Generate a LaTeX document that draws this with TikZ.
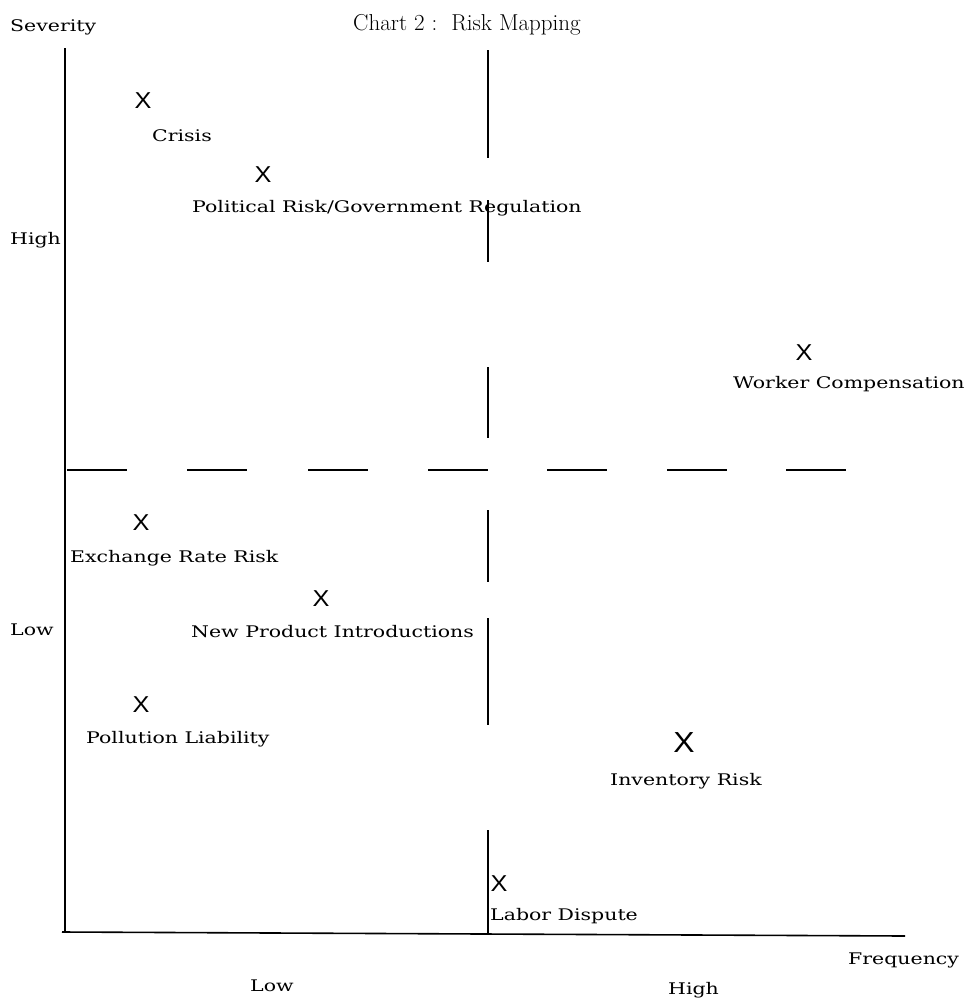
\documentclass[tikz,border=0pt]{standalone}
\usepackage{fontspec}
\newfontfamily\labfont[FakeStretch=1.28]{DejaVu Serif}
\newfontfamily\xfont[FakeStretch=1.1]{Liberation Sans}
\begin{document}
\begin{tikzpicture}[x=1pt,y=-1pt,
  lab/.style={font=\labfont\fontsize{16}{19}\selectfont, inner sep=0pt, anchor=mid west},
  xmk/.style={font=\xfont\fontsize{23}{23}\selectfont, inner sep=0pt},
  bigxmk/.style={font=\xfont\fontsize{29}{29}\selectfont, inner sep=0pt},
  axis/.style={line width=1.6pt},
  divider/.style={line width=1.5pt},
  thindiv/.style={line width=1.1pt}]
\useasboundingbox (0,0) rectangle (966,999);
% title and axis labels
\node[font=\fontsize{23}{26}\selectfont, inner sep=0pt, anchor=mid west] (title) at (353,28) {Chart 2 :\ \ Risk Mapping};
\node[lab] (sev) at (10,29) {Severity};
\node[lab] (yhigh) at (10,242) {High};
\node[lab] (ylow) at (10,633) {Low};
\node[lab] (freq) at (848,962) {Frequency};
\node[lab] (xlow) at (250,989) {Low};
\node[lab] (xhigh) at (668,992) {High};
% axes
\draw[axis] (65,48) -- (65,933);
\draw[axis] (62,932) -- (905,936);
% horizontal dashed divider
\foreach \a in {67,187,308,428,547,667,786}
  \draw[divider] (\a,470) -- ++(60,0);
% vertical broken divider
\foreach \a/\b in {50/158,200/262}
  \draw[thindiv] (488,\a) -- (488,\b);
\foreach \a/\b in {367/438,510/582,618/725,830/934}
  \draw[divider] (488,\a) -- (488,\b);
% risk items
\node[xmk] (xcrisis) at (143,101) {X};
\node[lab] (crisis) at (152,139) {Crisis};
\node[xmk] (xpol) at (263,175) {X};
\node[lab] (pol) at (192,210) {Political Risk/Government Regulation};
\node[xmk] (xwork) at (804,353) {X};
\node[lab] (work) at (733,386) {Worker Compensation};
\node[xmk] (xexch) at (141,523) {X};
\node[lab] (exch) at (70,560) {Exchange Rate Risk};
\node[xmk] (xnew) at (321,599) {X};
\node[lab] (new) at (191,635) {New Product Introductions};
\node[xmk] (xpoll) at (141,705) {X};
\node[lab] (poll) at (86,741) {Pollution Liability};
\node[bigxmk] (xinv) at (684,743) {X};
\node[lab] (inv) at (610,783) {Inventory Risk};
\node[xmk] (xlab) at (499,884) {X};
\node[lab] (labor) at (490,918) {Labor Dispute};
\end{tikzpicture}
\end{document}
